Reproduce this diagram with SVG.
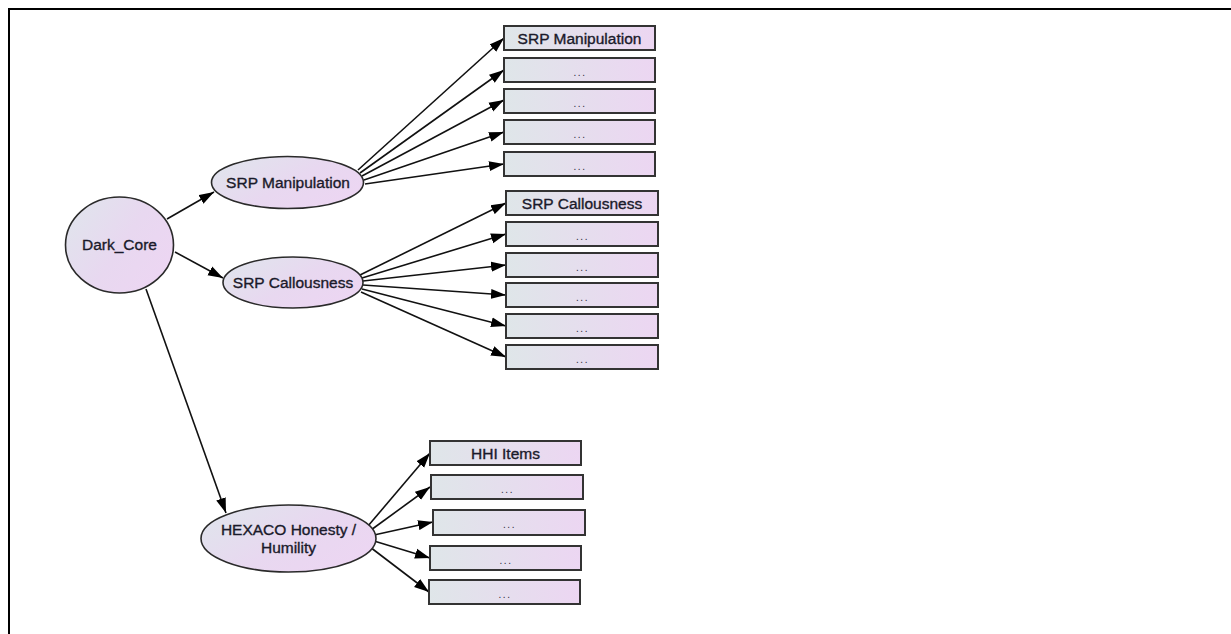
<svg xmlns="http://www.w3.org/2000/svg" width="1231" height="634" viewBox="0 0 1231 634">
<defs>
<linearGradient id="gBox" x1="0" y1="0" x2="1" y2="0">
<stop offset="0" stop-color="#dfe6e9"/>
<stop offset="1" stop-color="#ecd6f2"/>
</linearGradient>
<linearGradient id="gEl" x1="0" y1="0" x2="1" y2="0.6">
<stop offset="0" stop-color="#dfe6ec"/>
<stop offset="0.6" stop-color="#e8d8f0"/>
<stop offset="1" stop-color="#ecd6f2"/>
</linearGradient>
<marker id="ah" markerUnits="userSpaceOnUse" markerWidth="16" markerHeight="11" refX="15" refY="5.5" orient="auto">
<path d="M0,0.5 L15,5.5 L0,10.5 z" fill="#000"/>
</marker>
</defs>
<style>
.box{fill:url(#gBox);stroke:#333;stroke-width:2}
.el{fill:url(#gEl);stroke:#2a2a2a;stroke-width:1.6}
.t{font-family:"Liberation Sans",Arial,sans-serif;font-size:15.5px;fill:#1a1a2a;stroke:#1a1a2a;stroke-width:0.35;text-anchor:middle}
.d{font-family:"Liberation Sans",Arial,sans-serif;font-size:10px;fill:#2a2a3a;text-anchor:middle;letter-spacing:1.5px}
.c line{stroke:#111;stroke-width:1.6;marker-end:url(#ah)}
</style>
<rect x="0" y="0" width="1231" height="634" fill="#fff"/>
<rect x="9" y="9" width="1240" height="640" fill="none" stroke="#000" stroke-width="2"/>

<g id="connectors" class="c">
<line x1="167" y1="219" x2="214" y2="192"/>
<line x1="175" y1="252" x2="223" y2="278"/>
<line x1="146" y1="289" x2="226" y2="513"/>

<line x1="358" y1="170" x2="504" y2="38"/>
<line x1="360" y1="173" x2="504" y2="70"/>
<line x1="362" y1="176" x2="504" y2="100"/>
<line x1="364" y1="180" x2="504" y2="132"/>
<line x1="365" y1="184" x2="504" y2="164"/>

<line x1="360" y1="275" x2="506" y2="203"/>
<line x1="362" y1="278" x2="506" y2="234"/>
<line x1="363" y1="281" x2="506" y2="265"/>
<line x1="363" y1="285" x2="506" y2="295"/>
<line x1="362" y1="289" x2="506" y2="326"/>
<line x1="361" y1="292" x2="506" y2="357"/>

<line x1="368" y1="526" x2="430" y2="453"/>
<line x1="371" y1="530" x2="430" y2="487"/>
<line x1="374" y1="535" x2="433" y2="522"/>
<line x1="374" y1="541" x2="430" y2="558"/>
<line x1="370" y1="547" x2="429" y2="592"/>
</g>

<g id="dark_core"><ellipse class="el" cx="119.5" cy="245" rx="54" ry="48"/><text class="t" x="119.5" y="250">Dark_Core</text></g>
<g id="srp_manip"><ellipse class="el" cx="287.5" cy="182.5" rx="76" ry="26"/><text class="t" x="288" y="188">SRP Manipulation</text></g>
<g id="srp_call"><ellipse class="el" cx="293" cy="282.5" rx="70" ry="25.5"/><text class="t" x="293" y="288">SRP Callousness</text></g>
<g id="hexaco"><ellipse class="el" cx="288.5" cy="538.5" rx="87.5" ry="33.5"/><text class="t" x="288.5" y="535">HEXACO Honesty /</text><text class="t" x="288.5" y="553">Humility</text></g>

<g id="m1"><rect class="box" x="504" y="26" width="151" height="24"/><text class="t" x="579.5" y="44">SRP Manipulation</text></g>
<g id="m2"><rect class="box" x="504" y="58" width="151" height="24"/><text class="d" x="580" y="76">...</text></g>
<g id="m3"><rect class="box" x="504" y="89" width="151" height="24"/><text class="d" x="580" y="107">...</text></g>
<g id="m4"><rect class="box" x="504" y="120" width="151" height="24"/><text class="d" x="580" y="138">...</text></g>
<g id="m5"><rect class="box" x="504" y="152" width="151" height="24"/><text class="d" x="580" y="170">...</text></g>

<g id="c1"><rect class="box" x="506" y="191" width="152" height="24"/><text class="t" x="582" y="209">SRP Callousness</text></g>
<g id="c2"><rect class="box" x="506" y="222" width="152" height="24"/><text class="d" x="582.5" y="240">...</text></g>
<g id="c3"><rect class="box" x="506" y="253" width="152" height="24"/><text class="d" x="582.5" y="271">...</text></g>
<g id="c4"><rect class="box" x="506" y="283" width="152" height="24"/><text class="d" x="582.5" y="301">...</text></g>
<g id="c5"><rect class="box" x="506" y="314" width="152" height="24"/><text class="d" x="582.5" y="332">...</text></g>
<g id="c6"><rect class="box" x="506" y="345" width="152" height="24"/><text class="d" x="582.5" y="363">...</text></g>

<g id="h1"><rect class="box" x="430" y="441" width="151" height="24"/><text class="t" x="505.5" y="459">HHI Items</text></g>
<g id="h2"><rect class="box" x="431" y="475" width="152" height="24"/><text class="d" x="507.5" y="493">...</text></g>
<g id="h3"><rect class="box" x="433" y="510" width="152" height="25"/><text class="d" x="509.5" y="528">...</text></g>
<g id="h4"><rect class="box" x="430" y="546" width="151" height="24"/><text class="d" x="506" y="564">...</text></g>
<g id="h5"><rect class="box" x="429" y="580" width="151" height="24"/><text class="d" x="505" y="598">...</text></g>
</svg>
